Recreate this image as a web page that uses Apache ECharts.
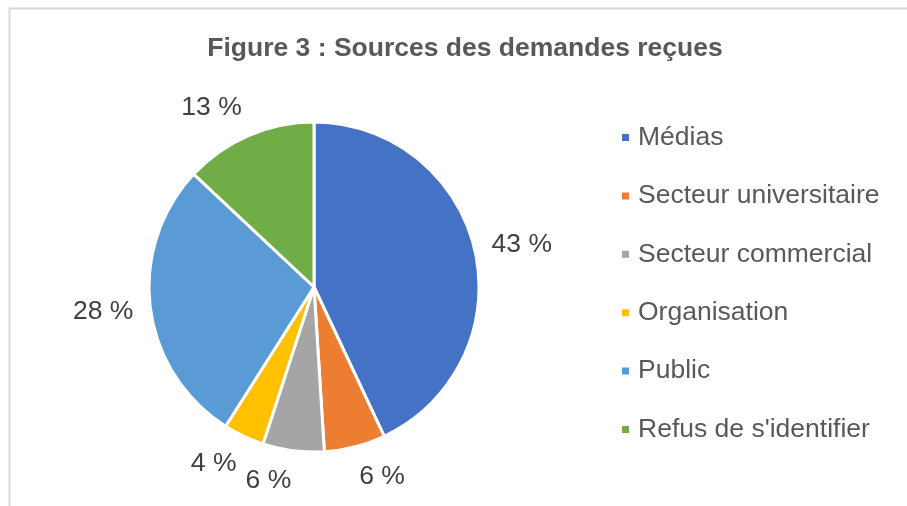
<!DOCTYPE html>
<html>
<head>
<meta charset="utf-8">
<script src="https://cdn.jsdelivr.net/npm/echarts@6/dist/echarts.min.js"></script>
<style>
	html, body { margin: 0; padding: 0; background: #fff; }
	#chart { width: 907px; height: 506px; }
</style>
</head>
<body>
<div id="chart"></div>
<script>
// données
const categories = ['Médias', 'Secteur universitaire', 'Secteur commercial', 'Organisation', 'Public', "Refus de s'identifier"]
const values = [43, 6, 6, 4, 28, 13]
const colors = ['#4472C4', '#ED7D31', '#A5A5A5', '#FFC000', '#5B9BD5', '#70AD47']

const FONT = "'Liberation Sans', Arial, sans-serif"
const PIE_CENTER = [314, 287]
const PIE_RADIUS = 165
const LABEL_GAP = 17 // distance entre le bord du camembert et l'étiquette

const total = values.reduce((a, b) => a + b, 0)

// place l'étiquette à l'extérieur, comme Excel (« bord extérieur »)
function outsideEndLayout(params) {
	const i = params.dataIndex
	let before = 0
	for (let k = 0; k < i; k++) before += values[k]
	const angle = ((before + values[i] / 2) / total) * Math.PI * 2
	const dx = Math.sin(angle)
	const dy = -Math.cos(angle)
	const w = params.labelRect.width
	const h = params.labelRect.height
	const r = PIE_RADIUS + LABEL_GAP
	return {
		x: PIE_CENTER[0] + dx * r + Math.sign(dx) * w / 2,
		y: PIE_CENTER[1] + dy * r + dy * h / 2,
		align: 'center',
		verticalAlign: 'middle',
	}
}

const chart = echarts.init(document.getElementById('chart'))

chart.setOption({
	animation: false,
	color: colors,
	title: {
		text: 'Figure 3 : Sources des demandes reçues',
		left: 460,
		top: 30,
		textAlign: 'center',
		textStyle: {
			fontFamily: FONT,
			fontSize: 26.5,
			fontWeight: 'bold',
			color: '#595959',
		},
	},
	legend: {
		orient: 'vertical',
		left: 615,
		top: 119,
		itemWidth: 9,
		itemHeight: 9,
		itemGap: 31.4,
		icon: 'rect',
		textStyle: {
			fontFamily: FONT,
			fontSize: 26.5,
			lineHeight: 26,
			color: '#595959',
			padding: [0, 0, 0, 3],
		},
	},
	// cadre gris clair
	graphic: [
		{
			type: 'rect',
			shape: { x: 9.5, y: 8.5, width: 1000, height: 1000 },
			style: { fill: 'none', stroke: '#d9d9d9', lineWidth: 2 },
			silent: true,
		},
	],
	series: [
		{
			type: 'pie',
			center: PIE_CENTER,
			radius: PIE_RADIUS,
			startAngle: 90,
			clockwise: true,
			itemStyle: {
				borderColor: '#fff',
				borderWidth: 3,
			},
			label: {
				show: true,
				position: 'outside',
				formatter: '{c} %',
				fontFamily: FONT,
				fontSize: 26.5,
				color: '#404040',
			},
			labelLine: { show: false },
			labelLayout: outsideEndLayout,
			emphasis: { disabled: true },
			data: categories.map((name, i) => ({ name, value: values[i] })),
		},
	],
})
</script>
</body>
</html>
